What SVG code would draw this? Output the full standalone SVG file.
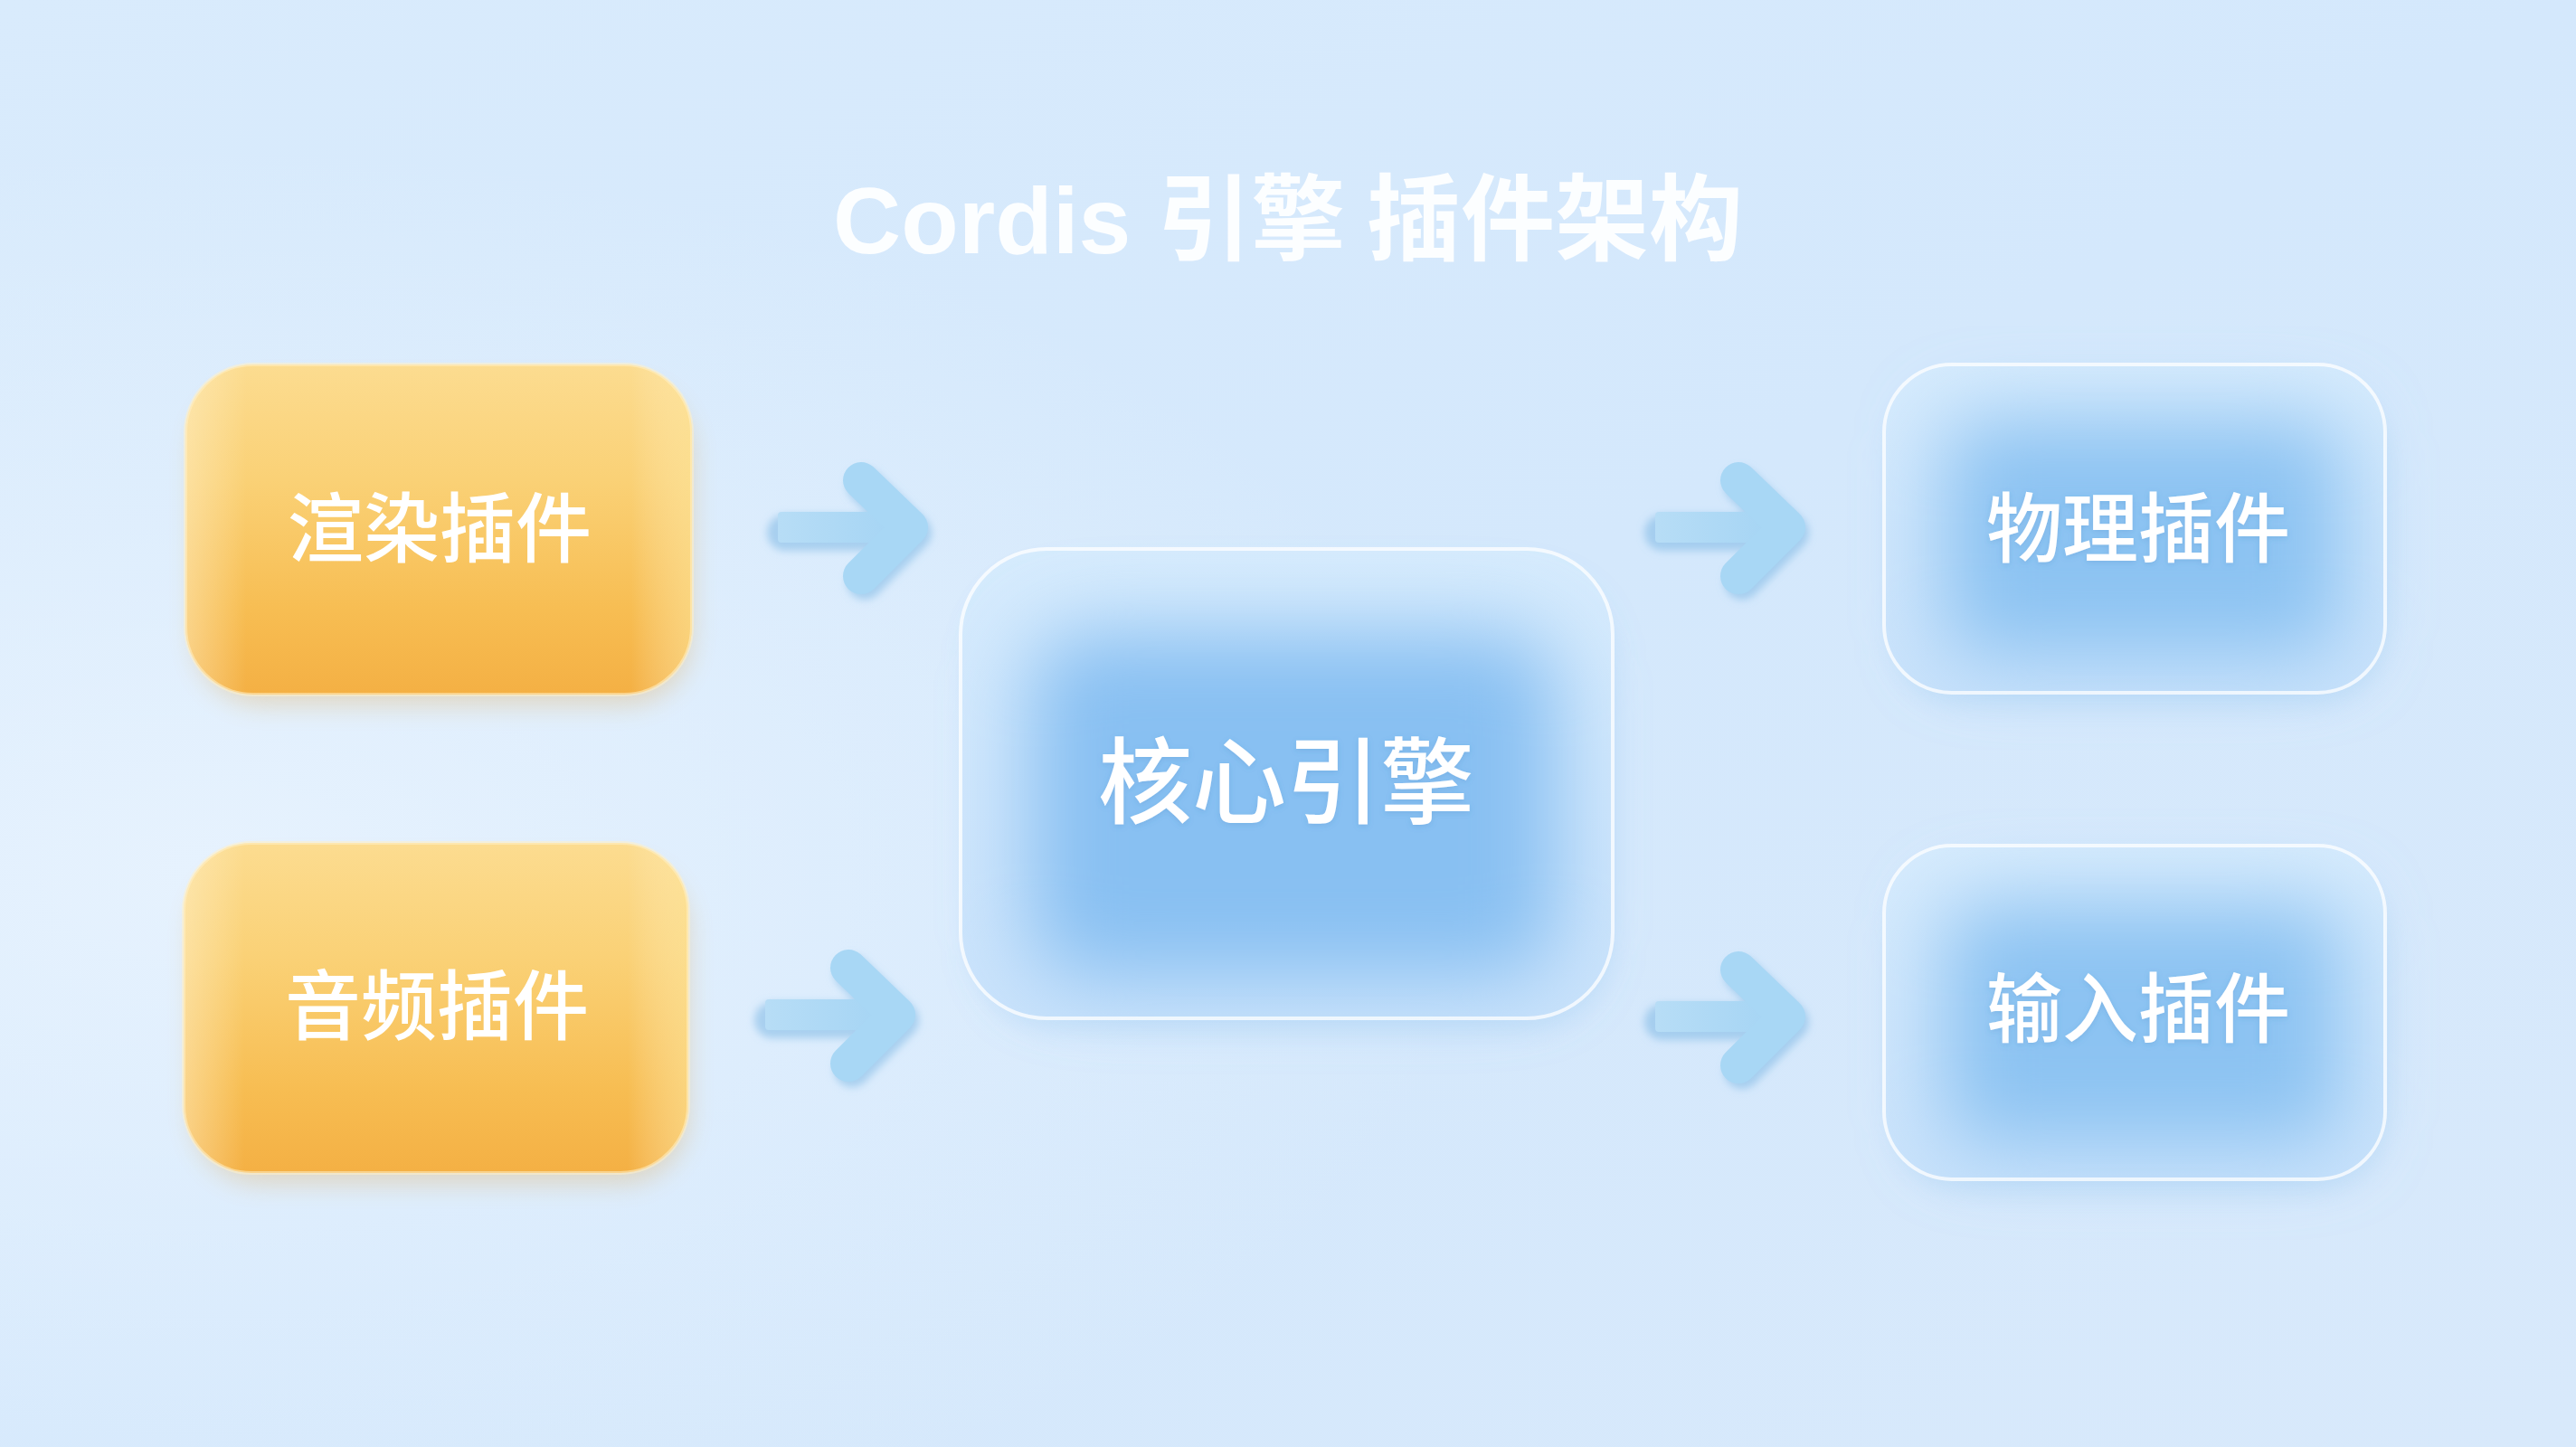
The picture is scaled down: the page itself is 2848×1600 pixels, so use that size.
<svg xmlns="http://www.w3.org/2000/svg" width="2848" height="1600" viewBox="0 0 2848 1600">
  <defs>
    <linearGradient id="bg" x1="0" y1="0" x2="1" y2="1">
      <stop offset="0" stop-color="#d9ebfc"/>
      <stop offset="0.5" stop-color="#d4e8fc"/>
      <stop offset="1" stop-color="#d8e9fb"/>
    </linearGradient>
    <radialGradient id="bgGlow" cx="0.08" cy="0.6" r="0.5">
      <stop offset="0" stop-color="#e8f3fe" stop-opacity="0.9"/>
      <stop offset="1" stop-color="#e8f3fe" stop-opacity="0"/>
    </radialGradient>
    <linearGradient id="gold" x1="0" y1="0" x2="0" y2="1">
      <stop offset="0" stop-color="#fcdc90"/>
      <stop offset="0.35" stop-color="#fad176"/>
      <stop offset="0.75" stop-color="#f7bd52"/>
      <stop offset="1" stop-color="#f4b044"/>
    </linearGradient>
    <linearGradient id="goldSide" x1="0" y1="0" x2="1" y2="0">
      <stop offset="0" stop-color="#fff3d2" stop-opacity="0.45"/>
      <stop offset="0.12" stop-color="#fff3d2" stop-opacity="0"/>
      <stop offset="0.88" stop-color="#fff3d2" stop-opacity="0"/>
      <stop offset="1" stop-color="#fde7a0" stop-opacity="0.55"/>
    </linearGradient>
    <linearGradient id="glass" x1="0" y1="0" x2="0" y2="1">
      <stop offset="0" stop-color="#d6ebfd"/>
      <stop offset="1" stop-color="#c9e2fb"/>
    </linearGradient>
    <linearGradient id="arrowFill" x1="0" y1="0" x2="1" y2="0">
      <stop offset="0" stop-color="#b7ddf6"/>
      <stop offset="1" stop-color="#a4d4f4"/>
    </linearGradient>
    <filter id="soft" x="-40%" y="-40%" width="180%" height="180%">
      <feGaussianBlur stdDeviation="45"/>
    </filter>
    <filter id="shadow" x="-20%" y="-20%" width="140%" height="150%">
      <feGaussianBlur stdDeviation="14"/>
    </filter>
    <filter id="aShadow" x="-20%" y="-30%" width="140%" height="160%">
      <feGaussianBlur stdDeviation="4"/>
    </filter>
    <filter id="txtShadow" x="-10%" y="-30%" width="120%" height="160%">
      <feDropShadow dx="0" dy="2" stdDeviation="3" flood-color="#3a78b8" flood-opacity="0.2"/>
    </filter>
    <g id="arrow">
      <path d="M 8,6 L 132,6 M 96,-46 L 150,6 L 96,60" fill="none" stroke="#86bde6" stroke-opacity="0.6" stroke-width="40" stroke-linejoin="round" stroke-linecap="round" filter="url(#aShadow)"/>
      <rect x="0" y="-17" width="140" height="34" rx="4" fill="url(#arrowFill)"/>
      <path d="M 92,-52 L 146,0 L 92,54" fill="none" stroke="#a8d7f5" stroke-width="40" stroke-linejoin="round" stroke-linecap="round"/>
    </g>
  </defs>
  <style>
    .label { font-family: "Noto Sans CJK SC", "Noto Sans", sans-serif; font-weight: 500; fill: #ffffff; text-anchor: middle; }
    .title { font-family: "Liberation Sans", "Noto Sans CJK SC", sans-serif; font-weight: 700; fill: #ffffff; fill-opacity: 0.92; text-anchor: middle; font-size: 104px; }
    .title-cjk { font-family: "Noto Sans CJK SC", sans-serif; font-weight: 700; }
    .gold-rim { fill: none; stroke: #fff1c8; stroke-opacity: 0.55; stroke-width: 4; }
    .glass-rim { fill: none; stroke: #ffffff; stroke-opacity: 0.75; stroke-width: 4; }
  </style>

  <rect x="0" y="0" width="2848" height="1600" fill="url(#bg)"/>
  <rect x="0" y="0" width="2848" height="1600" fill="url(#bgGlow)"/>

  <text class="title" x="1424" y="280">Cordis <tspan class="title-cjk">引擎 插件架构</tspan></text>

  <g id="connectors">
    <use href="#arrow" x="860" y="583"/>
    <use href="#arrow" x="846" y="1122"/>
    <use href="#arrow" x="1830" y="583"/>
    <use href="#arrow" x="1830" y="1124"/>
  </g>

  <g id="node-render">
    <rect x="215" y="425" width="550" height="355" rx="75" fill="#e0a040" opacity="0.3" filter="url(#shadow)"/>
    <rect x="205" y="403" width="560" height="365" rx="75" fill="url(#gold)"/>
    <rect x="205" y="403" width="560" height="365" rx="75" fill="url(#goldSide)"/>
    <rect x="205" y="403" width="560" height="365" rx="75" class="gold-rim"/>
    <text class="label" x="486" y="615" font-size="84">渲染插件</text>
  </g>

  <g id="node-audio">
    <rect x="213" y="954" width="548" height="355" rx="75" fill="#e0a040" opacity="0.3" filter="url(#shadow)"/>
    <rect x="203" y="932" width="558" height="365" rx="75" fill="url(#gold)"/>
    <rect x="203" y="932" width="558" height="365" rx="75" fill="url(#goldSide)"/>
    <rect x="203" y="932" width="558" height="365" rx="75" class="gold-rim"/>
    <text class="label" x="483" y="1143" font-size="84">音频插件</text>
  </g>

  <g id="node-core">
    <rect x="1072" y="630" width="711" height="510" rx="95" fill="#9ccaf2" opacity="0.3" filter="url(#shadow)"/>
    <rect x="1062" y="607" width="721" height="519" rx="95" fill="url(#glass)"/>
    <rect x="1140" y="700" width="580" height="380" rx="60" fill="#88c0f2" filter="url(#soft)"/>
    <rect x="1062" y="607" width="721" height="519" rx="95" class="glass-rim"/>
    <text class="label" x="1422" y="903" font-size="104" filter="url(#txtShadow)">核心引擎</text>
  </g>

  <g id="node-physics">
    <rect x="2093" y="425" width="544" height="355" rx="75" fill="#9ccaf2" opacity="0.3" filter="url(#shadow)"/>
    <rect x="2083" y="403" width="554" height="363" rx="75" fill="url(#glass)"/>
    <rect x="2150" y="465" width="440" height="260" rx="40" fill="#8cc3f2" filter="url(#soft)"/>
    <rect x="2083" y="403" width="554" height="363" rx="75" class="glass-rim"/>
    <text class="label" x="2364" y="615" font-size="84" filter="url(#txtShadow)">物理插件</text>
  </g>

  <g id="node-input">
    <rect x="2093" y="957" width="544" height="360" rx="75" fill="#9ccaf2" opacity="0.3" filter="url(#shadow)"/>
    <rect x="2083" y="935" width="554" height="369" rx="75" fill="url(#glass)"/>
    <rect x="2150" y="1000" width="440" height="265" rx="40" fill="#8cc3f2" filter="url(#soft)"/>
    <rect x="2083" y="935" width="554" height="369" rx="75" class="glass-rim"/>
    <text class="label" x="2364" y="1146" font-size="84" filter="url(#txtShadow)">输入插件</text>
  </g>
</svg>
